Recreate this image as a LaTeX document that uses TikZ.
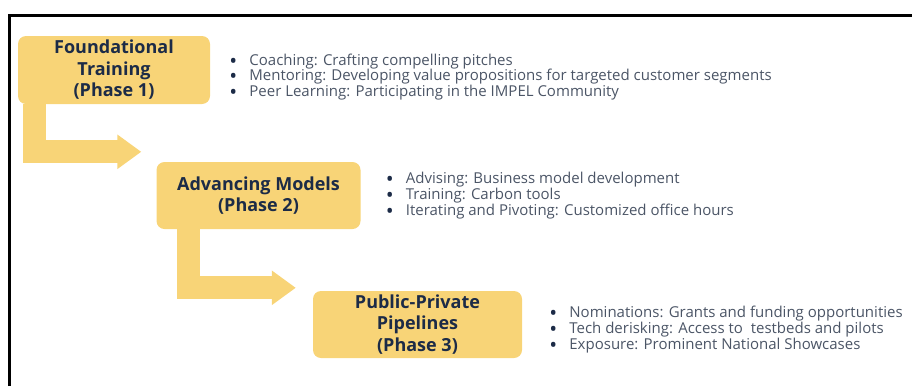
\documentclass[tikz,border=0pt]{standalone}
\usepackage{fontspec}
\setmainfont{Open Sans}
\usetikzlibrary{arrows.meta,positioning}
\definecolor{phaseyellow}{HTML}{F8D477}
\definecolor{phasenavy}{HTML}{1C2B47}
\definecolor{itemgray}{HTML}{4B5566}
\newcommand\phaseitem[1]{\makebox[20pt][l]{\raisebox{-3pt}[0pt][0pt]{\color{phasenavy}\fontsize{21}{16}\selectfont\textbullet}}#1}

\begin{document}
\begin{tikzpicture}[x=1pt, y=-1pt,
		phase/.style={fill=phaseyellow, rounded corners=8pt, text=phasenavy, font=\fontsize{18}{21.5}\selectfont\bfseries, align=center, inner sep=0pt},
		items/.style={text=itemgray, font=\fontsize{15}{15.7}\selectfont, align=left, anchor=west, inner sep=0pt},
		flow/.style={draw=phaseyellow, line width=23pt, line join=miter, -{Triangle[length=24pt 0 0, width=33pt 0 0]}}]
		\useasboundingbox (0, 0) rectangle (912, 386);
		\draw [line width=3pt] (9.5, 386) -- (9.5, 15) -- (912, 15);
		\node [phase, minimum width=192pt, minimum height=68pt] (phase1) at (114, 70) {Foundational\\Training\\(Phase 1)};
		\node [phase, minimum width=204pt, minimum height=67pt] (phase2) at (258.5, 195.5) {Advancing Models\\(Phase 2)};
		\node [phase, minimum width=209pt, minimum height=67pt] (phase3) at (417.5, 324.5) {Public-Private\\Pipelines\\(Phase 3)};
		\node [items, right=19pt of phase1, yshift=-7pt] (list1) {\phaseitem{Coaching: Crafting compelling pitches}\\\phaseitem{Mentoring: Developing value propositions for targeted customer segments}\\\phaseitem{Peer Learning: Participating in the IMPEL Community}};
		\node [items, right=25pt of phase2] (list2) {\phaseitem{Advising: Business model development}\\\phaseitem{Training: Carbon tools}\\\phaseitem{Iterating and Pivoting: Customized office hours}};
		\node [items, right=27pt of phase3, yshift=-5pt] (list3) {\phaseitem{Nominations: Grants and funding opportunities}\\\phaseitem{Tech derisking: Access to\ \ testbeds and pilots}\\\phaseitem{Exposure: Prominent National Showcases}};
		\draw [flow] ([xshift=17pt]phase1.south west) |- ([xshift=-15pt, yshift=10pt]phase2.north west);
		\draw [flow] ([xshift=32pt]phase2.south west) |- ([xshift=-17pt, yshift=3pt]phase3.north west);
	\end{tikzpicture}
\end{document}
